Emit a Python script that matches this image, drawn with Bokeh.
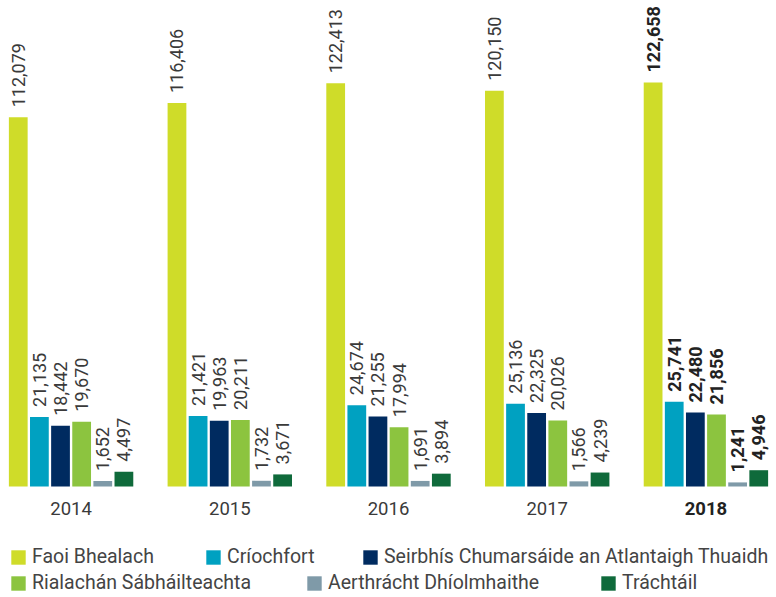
import math
from bokeh.plotting import figure
from bokeh.models import ColumnDataSource, FactorRange, Range1d, Legend, LegendItem
from bokeh.core.properties import value, field
from bokeh.embed import file_html
from bokeh.resources import INLINE

years = ["2014", "2015", "2016", "2017", "2018"]
series = ["Faoi Bhealach", "Críochfort", "Seirbhís Chumarsáide an Atlantaigh Thuaidh",
          "Rialachán Sábháilteachta", "Aerthrácht Dhíolmhaithe", "Tráchtáil"]
faoi_bhealach = [112079, 116406, 122413, 120150, 122658]
criochfort = [21135, 21421, 24674, 25136, 25741]
seirbhis = [18442, 19963, 21255, 22325, 22480]
rialachan = [19670, 20211, 17994, 20026, 21856]
aerthracht = [1652, 1732, 1691, 1566, 1241]
trachtail = [4497, 3671, 3894, 4239, 4946]
values = [faoi_bhealach, criochfort, seirbhis, rialachan, aerthracht, trachtail]
colors = ["#cfdc29", "#00a1c1", "#002b60", "#8cc43f", "#7f9aa8", "#0f6a3b"]

FONT = "Roboto"
TXT = "#3a3a3a"
BOLD_TXT = "#222222"

W, H = 776, 597
base_px = 111          # baseline distance from bottom of frame
tall_px = 404          # pixel height of the tallest bar
vmax = max(max(v) for v in values)
upp = vmax / tall_px
y_start = -base_px * upp
y_end = (H - base_px) * upp

factors = [(y, s) for y in years for s in series]
p = figure(width=W, height=H, output_backend="svg", toolbar_location=None,
           x_range=FactorRange(*factors, factor_padding=0, group_padding=1.512,
                               range_padding=0.0189),
           y_range=Range1d(y_start, y_end),
           x_axis_type=None, y_axis_type=None, min_border=0)
p.outline_line_color = None
p.background_fill_color = "white"

renderers = []
for s, vals, c in zip(series, values, colors):
    src = ColumnDataSource(dict(x=[(y, s) for y in years], top=vals))
    r = p.vbar(x="x", top="top", bottom=0, width=0.888, source=src,
               fill_color=c, line_color=None)
    renderers.append(r)

# value labels
lx, ly, lt, lst, lcol = [], [], [], [], []
for s, vals in zip(series, values):
    for y, v in zip(years, vals):
        lx.append((y, s)); ly.append(v); lt.append(f"{v:,}")
        bold = (y == years[-1])
        lst.append("bold" if bold else "normal")
        lcol.append(BOLD_TXT if bold else TXT)
lsrc = ColumnDataSource(dict(x=lx, y=ly, text=lt, style=lst, color=lcol))
p.text(x="x", y="y", text="text", source=lsrc, angle=math.pi / 2,
       text_align="left", text_baseline="middle", y_offset=-10,
       text_font=value(FONT), text_font_size="18px",
       text_font_style=field("style"), text_color=field("color"))

# year labels
ysrc = ColumnDataSource(dict(x=years, y=[0] * len(years), text=years,
                             style=["bold" if y == years[-1] else "normal" for y in years],
                             color=[BOLD_TXT if y == years[-1] else TXT for y in years]))
p.text(x="x", y="y", text="text", source=ysrc, text_align="center",
       text_baseline="middle", y_offset=22, text_font=value(FONT),
       text_font_size="18.5px", text_font_style=field("style"), text_color=field("color"))

# legend: each item placed like the reference's flowing two-row layout
leg_pos = [(9, 29), (204, 29), (361, 29), (9, 3), (305, 3), (599, 3)]
for i, (r, s) in enumerate(zip(renderers, series)):
    lg = Legend(items=[LegendItem(label=s, renderers=[r])], location=leg_pos[i],
                orientation="horizontal", glyph_width=18, glyph_height=18,
                label_height=18, label_standoff=5, padding=0, margin=0, spacing=0,
                border_line_color=None, background_fill_alpha=0,
                label_text_font=FONT, label_text_font_size="19.5px",
                label_text_color="#444444", label_text_baseline="middle")
    p.add_layout(lg)

open("out.html", "w").write(file_html(p, INLINE))
